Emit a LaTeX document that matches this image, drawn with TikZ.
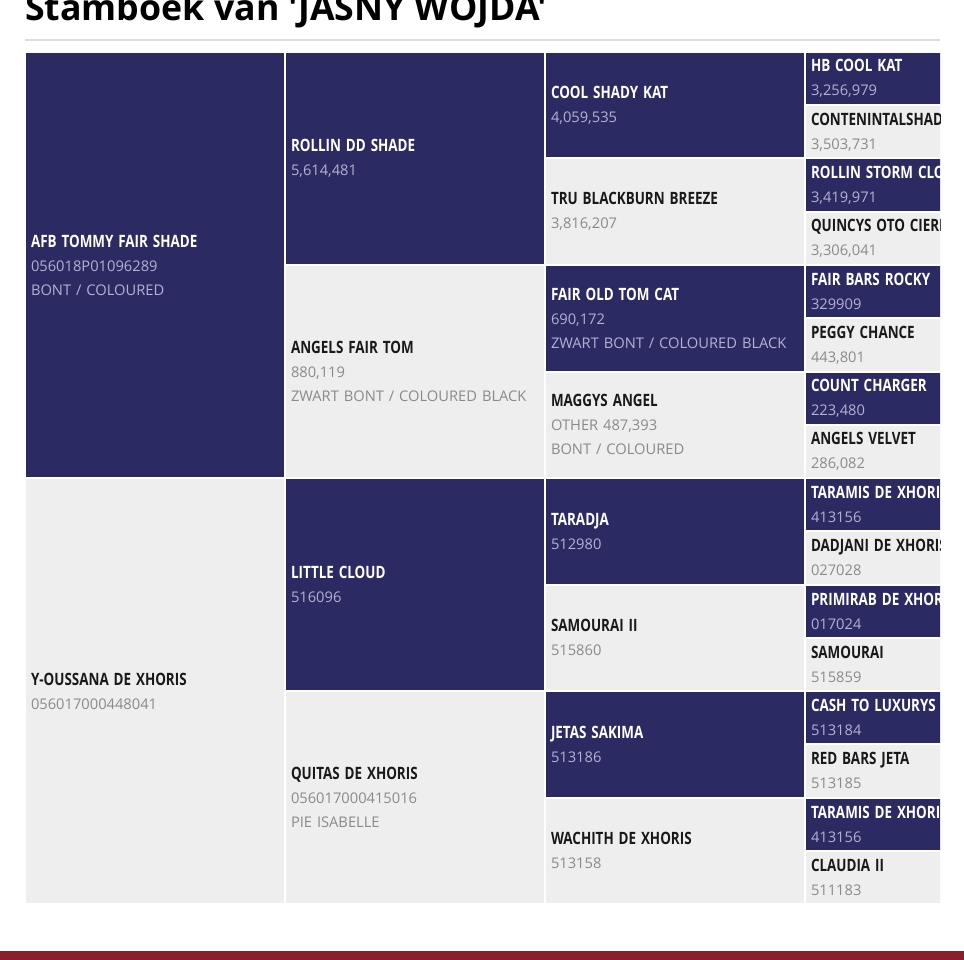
\documentclass[tikz,border=0pt]{standalone}
\usepackage{fontspec}
\setmainfont{Open Sans}
\newfontfamily\namefont[FakeStretch=0.79]{Open Sans}
\newfontfamily\titlefont[Ligatures=TeXOff]{Open Sans}
\usetikzlibrary{
		positioning
	}
\definecolor{pedNavy}{HTML}{2C2A62}
\definecolor{pedGrey}{HTML}{EEEEEE}
\definecolor{infoOnNavy}{HTML}{B3B2D2}
\definecolor{infoOnGrey}{HTML}{8A8A8A}
\definecolor{titleRule}{HTML}{DDDDDD}
\definecolor{footRed}{HTML}{8C1D2A}
\colorlet{nameCol}{black}
\newcommand{\Nm}[1]{{\namefont\bfseries\fontsize{17}{24}\selectfont\textcolor{nameCol}{#1}}}

\begin{document}
\begin{tikzpicture}[x=1pt, y=1pt, grow=right, level distance=260,
				level 1/.style={sibling distance=-426, nodes={minimum height=426}},
				level 2/.style={sibling distance=-213, nodes={minimum height=213}},
				level 3/.style={sibling distance=-106.5, nodes={minimum height=106.5}},
				level 4/.style={sibling distance=-53.25, nodes={minimum height=53.25}},
				edge from parent/.style={draw=none},
				horse/.style={rectangle, draw=white, line width=2, outer sep=0, inner xsep=6, inner ysep=0,
					minimum width=260, text width=248, align=left, font=\fontsize{14.7}{24}\selectfont},
				dark/.style={horse, fill=pedNavy, text=infoOnNavy, execute at begin node={\colorlet{nameCol}{white}}},
				light/.style={horse, fill=pedGrey, text=infoOnGrey, execute at begin node={\colorlet{nameCol}{black!90}}}]
	\useasboundingbox (0,0) rectangle (964,-960);
	\clip (0,0) rectangle (964,-960);
	% title and rule
	\node[anchor=base west, inner sep=0, font=\titlefont\bfseries\fontsize{35.7}{40}\selectfont] (title) at (25,-21) {Stamboek van 'JASNY WOJDA'};
	\draw[titleRule, line width=1.5] (25,-40) -- (940,-40);
	% pedigree
	\begin{scope}
	\clip (0,-45) rectangle (940,-910);
	\node[coordinate] (horse) at (-105,-478) {}
	child { node[dark] (s) {\Nm{AFB TOMMY FAIR SHADE}\\056018P01096289\\BONT / COLOURED}
		child { node[dark] (ss) {\Nm{ROLLIN DD SHADE}\\5,614,481}
			child { node[dark] (sss) {\Nm{COOL SHADY KAT}\\4,059,535}
				child { node[dark] (ssss) {\Nm{HB COOL KAT}\\3,256,979} }
				child { node[light] (sssd) {\Nm{CONTENINTALSHAD}\\3,503,731} }
			}
			child { node[light] (ssd) {\Nm{TRU BLACKBURN BREEZE}\\3,816,207}
				child { node[dark] (ssds) {\Nm{ROLLIN STORM CLO}\\3,419,971} }
				child { node[light] (ssdd) {\Nm{QUINCYS OTO CIERR}\\3,306,041} }
			}
		}
		child { node[light] (sd) {\Nm{ANGELS FAIR TOM}\\880,119\\ZWART BONT / COLOURED BLACK}
			child { node[dark] (sds) {\Nm{FAIR OLD TOM CAT}\\690,172\\ZWART BONT / COLOURED BLACK}
				child { node[dark] (sdss) {\Nm{FAIR BARS ROCKY}\\329909} }
				child { node[light] (sdsd) {\Nm{PEGGY CHANCE}\\443,801} }
			}
			child { node[light] (sdd) {\Nm{MAGGYS ANGEL}\\OTHER 487,393\\BONT / COLOURED}
				child { node[dark] (sdds) {\Nm{COUNT CHARGER}\\223,480} }
				child { node[light] (sddd) {\Nm{ANGELS VELVET}\\286,082} }
			}
		}
	}
	child { node[light] (d) {\Nm{Y-OUSSANA DE XHORIS}\\056017000448041}
		child { node[dark] (ds) {\Nm{LITTLE CLOUD}\\516096}
			child { node[dark] (dss) {\Nm{TARADJA}\\512980}
				child { node[dark] (dsss) {\Nm{TARAMIS DE XHORIS}\\413156} }
				child { node[light] (dssd) {\Nm{DADJANI DE XHORIS}\\027028} }
			}
			child { node[light] (dsd) {\Nm{SAMOURAI II}\\515860}
				child { node[dark] (dsds) {\Nm{PRIMIRAB DE XHOR}\\017024} }
				child { node[light] (dsdd) {\Nm{SAMOURAI}\\515859} }
			}
		}
		child { node[light] (dd) {\Nm{QUITAS DE XHORIS}\\056017000415016\\PIE ISABELLE}
			child { node[dark] (dds) {\Nm{JETAS SAKIMA}\\513186}
				child { node[dark] (ddss) {\Nm{CASH TO LUXURYS}\\513184} }
				child { node[light] (ddsd) {\Nm{RED BARS JETA}\\513185} }
			}
			child { node[light] (ddd) {\Nm{WACHITH DE XHORIS}\\513158}
				child { node[dark] (ddds) {\Nm{TARAMIS DE XHORIS}\\413156} }
				child { node[light] (dddd) {\Nm{CLAUDIA II}\\511183} }
			}
		}
	};
	\end{scope}
	% footer bar
	\fill[footRed] (0,-951) rectangle (964,-960);
\end{tikzpicture}
\end{document}
